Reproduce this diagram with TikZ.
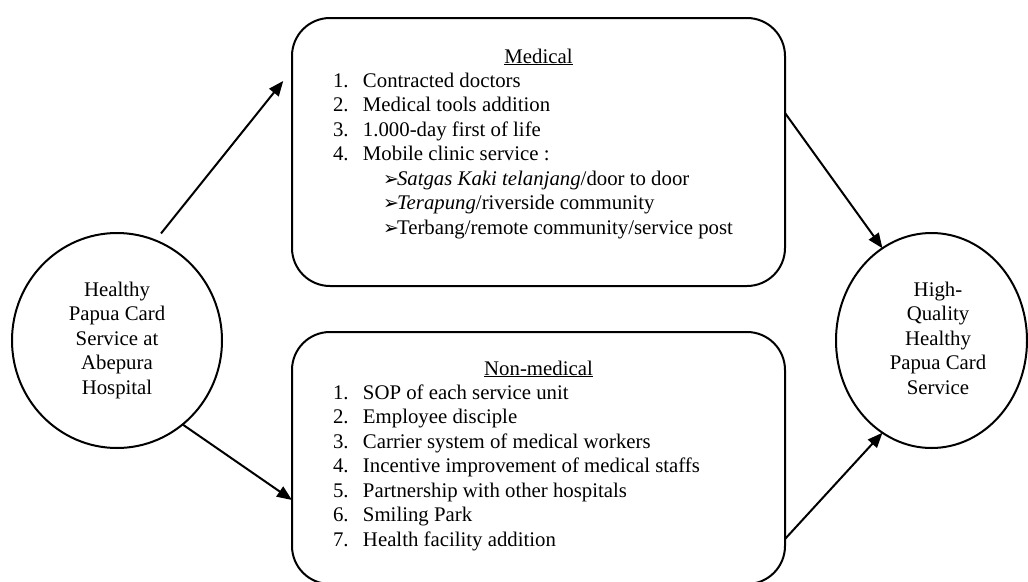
\documentclass[tikz,border=0pt]{standalone}
\usepackage{fontspec}
\setmainfont{Liberation Serif}
\newfontfamily\dejavu{DejaVu Sans}
\usetikzlibrary{shapes.geometric,arrows.meta,calc}
\newcommand\arrowmark{\makebox[14pt][l]{\dejavu\fontsize{19}{19}\selectfont ➢}}
\begin{document}
\begin{tikzpicture}[x=1pt,y=-1pt,
  every node/.style={font=\fontsize{20.8}{24.5}\selectfont, inner sep=0pt, outer sep=0pt},
  bubble/.style={draw, ellipse, line width=2pt},
  panel/.style={draw, rectangle, rounded corners=38pt, line width=2pt},
  arr/.style={line width=2pt, -{Triangle[length=15pt,width=12pt]}},
  txt/.style={anchor=base},
  listtxt/.style={anchor=base west}]
\useasboundingbox (0,0) rectangle (1028,581);
\clip (0,0) rectangle (1028,581);

% nodes
\node[bubble, minimum width=210pt, minimum height=215pt] (src) at (117,340.5) {};
\node[bubble, minimum width=191pt, minimum height=215pt] (dst) at (931.5,340.5) {};
\node[panel, minimum width=493pt, minimum height=268pt] (med) at (538.5,152) {};
\node[panel, minimum width=493pt, minimum height=252pt] (nonmed) at (538.5,458) {};

% texts
\node[txt] (srctext) at (117,296) {\begin{tabular}[t]{@{}c@{}}Healthy\\Papua Card\\Service at\\Abepura\\Hospital\end{tabular}};
\node[txt] (dsttext) at (938,296) {\begin{tabular}[t]{@{}c@{}}High-\\Quality\\Healthy\\Papua Card\\Service\end{tabular}};

\node[txt] (medtitle) at (538.5,63) {\underline{Medical}};
\node[listtxt] (medlist) at (333,87) {\begin{tabular}[t]{@{}p{30pt}@{}l@{}}
1. & Contracted doctors\\
2. & Medical tools addition\\
3. & 1.000-day first of life\\
4. & Mobile clinic service :\\
 & \hspace{20pt}\arrowmark\textit{Satgas Kaki telanjang}/door to door\\
 & \hspace{20pt}\arrowmark\textit{Terapung}/riverside community\\
 & \hspace{20pt}\arrowmark Terbang/remote community/service post
\end{tabular}};

\node[txt] (nonmedtitle) at (538.5,375) {\underline{Non-medical}};
\node[listtxt] (nonmedlist) at (333,399) {\begin{tabular}[t]{@{}p{30pt}@{}l@{}}
1. & SOP of each service unit\\
2. & Employee disciple\\
3. & Carrier system of medical workers\\
4. & Incentive improvement of medical staffs\\
5. & Partnership with other hospitals\\
6. & Smiling Park\\
7. & Health facility addition
\end{tabular}};

% connectors
\draw[arr, shorten <=9pt, shorten >=14pt] (src.69) -- ($(med.west)+(0,-82)$);
\draw[arr] (src.-52) -- ($(nonmed.west)+(0,42)$);
\draw[arr] ($(med.east)+(0,-39)$) -- (dst.118);
\draw[arr] ($(nonmed.east)+(0,81)$) -- (dst.-118);
\end{tikzpicture}
\end{document}
